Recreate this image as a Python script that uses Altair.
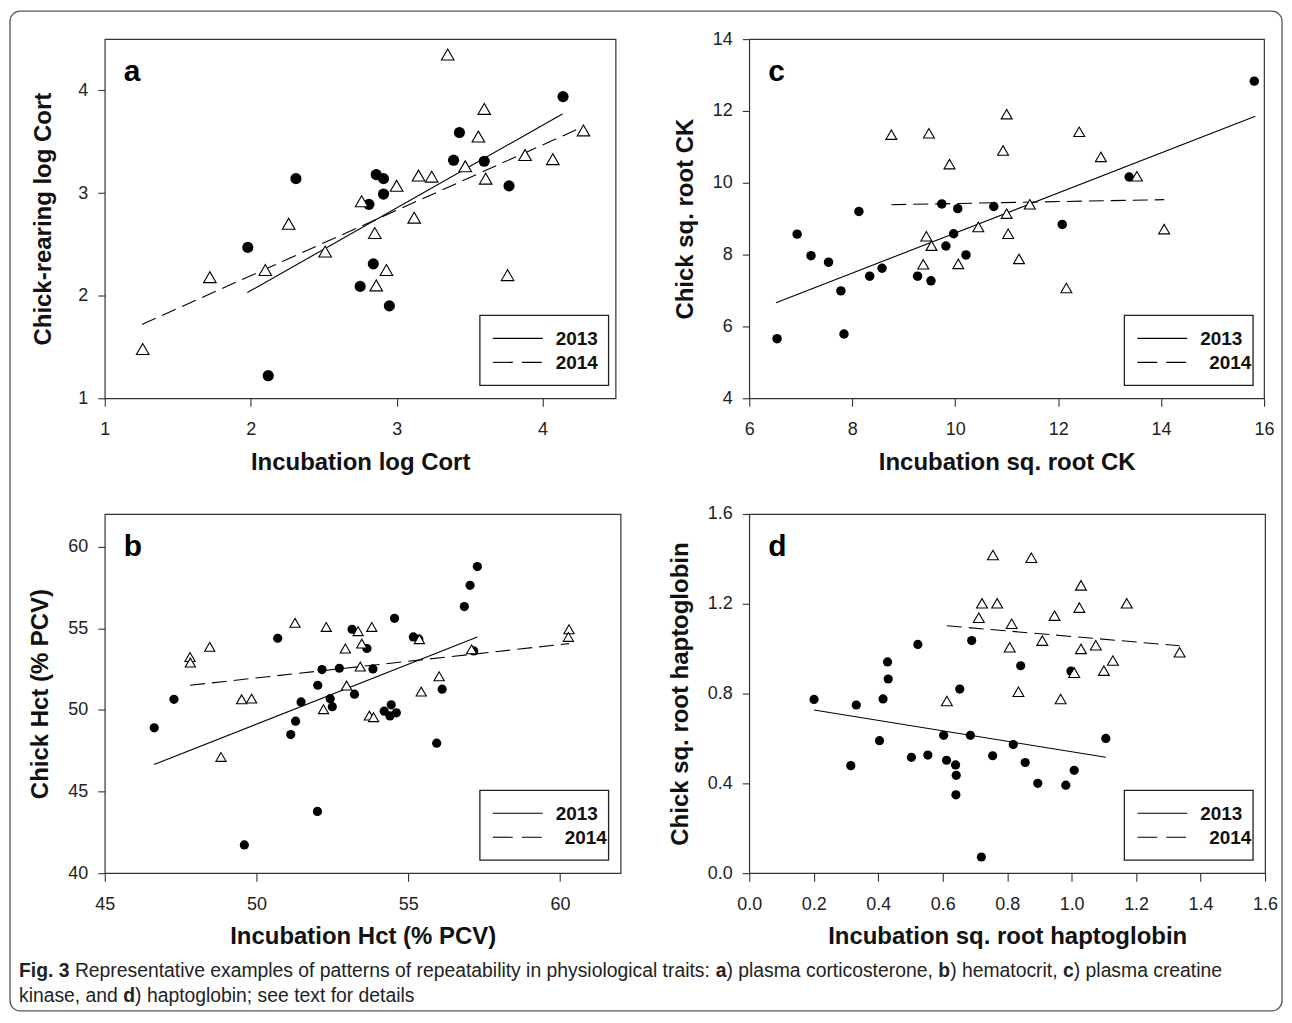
import altair as alt
import pandas as pd

# ---------------- data ----------------
# panel a : log Cort
a13_x = [4.14, 3.43, 3.39, 3.60, 3.77, 2.31, 2.86, 2.91, 2.91, 2.81, 1.98, 2.84, 2.75, 2.95, 2.12]
a13_y = [3.94, 3.59, 3.32, 3.31, 3.07, 3.14, 3.18, 3.14, 2.99, 2.89, 2.47, 2.31, 2.09, 1.90, 1.22]
a14_x = [3.35, 3.60, 3.56, 4.28, 3.88, 4.07, 3.47, 3.15, 3.24, 3.00, 3.61, 2.76, 3.12, 2.26, 2.85,
         2.51, 2.10, 2.93, 1.72, 2.86, 3.76, 1.26]
a14_y = [4.35, 3.82, 3.55, 3.61, 3.37, 3.33, 3.26, 3.17, 3.16, 3.07, 3.14, 2.92, 2.76, 2.70, 2.61,
         2.43, 2.25, 2.25, 2.18, 2.10, 2.20, 1.48]
a_fit13_x = [1.977, 4.136]
a_fit13_y = [2.03, 3.77]
a_fit14_x = [1.255, 4.284]
a_fit14_y = [1.72, 3.65]

# panel c : sq. root CK
c13_x = [6.54, 6.93, 7.20, 7.54, 7.78, 7.84, 8.13, 8.34, 8.58, 9.27, 9.53, 9.74, 9.82, 10.05, 9.97,
         10.21, 10.75, 12.08, 13.38, 15.81]
c13_y = [5.66, 8.57, 7.97, 7.79, 6.99, 5.79, 9.20, 7.40, 7.62, 7.40, 7.27, 9.41, 8.24, 9.28, 8.58,
         7.99, 9.34, 8.84, 10.16, 12.83]
c14_x = [8.76, 9.49, 11.00, 9.89, 10.93, 12.41, 12.83, 13.53, 11.45, 11.00, 10.45, 11.03, 9.44, 9.54,
         9.38, 10.06, 11.24, 12.16, 14.06]
c14_y = [11.34, 11.38, 11.91, 10.52, 10.90, 11.42, 10.72, 10.18, 9.40, 9.14, 8.77, 8.58, 8.51, 8.25,
         7.73, 7.74, 7.88, 7.07, 8.71]
c_fit13_x = [6.52, 15.83]
c_fit13_y = [6.66, 11.85]
c_fit14_x = [8.76, 14.06]
c_fit14_y = [9.39, 9.53]

# panel b : Hct
b13_x = [57.28, 57.04, 56.85, 54.55, 53.15, 50.70, 55.17, 55.35, 53.64, 52.16, 52.73, 53.84, 52.02,
         47.28, 51.47, 52.43, 52.50, 53.23, 56.12, 57.16, 51.29, 51.13, 46.63, 54.21, 54.44, 54.40,
         54.61, 55.94, 52.01, 49.60]
b13_y = [58.78, 57.63, 56.33, 55.61, 54.94, 54.39, 54.47, 54.33, 53.76, 52.47, 52.55, 52.51, 51.51,
         50.65, 50.49, 50.69, 50.20, 50.96, 51.27, 53.61, 49.31, 48.49, 48.90, 49.92, 50.31, 49.63,
         49.82, 47.96, 43.78, 41.73]
b14_x = [60.30, 60.28, 57.09, 55.37, 51.27, 52.30, 53.35, 53.80, 53.47, 52.93, 48.46, 47.81, 47.82,
         53.42, 52.97, 56.02, 55.43, 49.51, 49.84, 52.21, 53.72, 53.86, 48.83]
b14_y = [54.94, 54.47, 53.71, 54.33, 55.33, 55.08, 54.82, 55.08, 54.06, 53.76, 53.86, 53.24, 52.90,
         52.65, 51.49, 52.06, 51.12, 50.65, 50.69, 50.04, 49.65, 49.55, 47.12]
b_fit13_x = [46.62, 57.28]
b_fit13_y = [46.65, 54.47]
b_fit14_x = [47.81, 60.30]
b_fit14_y = [51.51, 54.06]

# panel d : sq. root haptoglobin
d13_x = [0.201, 0.332, 0.415, 0.429, 0.431, 0.523, 0.690, 0.842, 0.998, 0.653, 0.404, 0.315, 0.503,
         0.554, 0.603, 0.686, 0.612, 0.640, 0.642, 0.641, 0.755, 0.819, 0.856, 0.895, 0.982, 1.008,
         1.106, 0.720]
d13_y = [0.774, 0.749, 0.776, 0.941, 0.865, 1.019, 1.036, 0.924, 0.900, 0.820, 0.590, 0.479, 0.516,
         0.526, 0.614, 0.614, 0.503, 0.482, 0.436, 0.349, 0.523, 0.573, 0.493, 0.400, 0.392, 0.458,
         0.600, 0.072]
d14_x = [0.756, 0.875, 1.029, 0.722, 0.769, 1.171, 1.024, 0.712, 0.947, 0.814, 0.909, 1.075, 0.808,
         1.029, 1.335, 1.128, 1.008, 1.100, 0.835, 0.966, 0.613]
d14_y = [1.417, 1.405, 1.282, 1.202, 1.202, 1.202, 1.183, 1.138, 1.147, 1.111, 1.036, 1.015, 1.006,
         0.999, 0.984, 0.947, 0.893, 0.902, 0.808, 0.776, 0.767]
d_fit13_x = [0.201, 1.106]
d_fit13_y = [0.727, 0.516]
d_fit14_x = [0.613, 1.335]
d_fit14_y = [1.102, 1.013]

a_xticks = [1, 2, 3, 4]
a_yticks = [1, 2, 3, 4]
c_xticks = [6, 8, 10, 12, 14, 16]
c_yticks = [4, 6, 8, 10, 12, 14]
b_xticks = [45, 50, 55, 60]
b_yticks = [40, 45, 50, 55, 60]
d_xticks = [0.0, 0.2, 0.4, 0.6, 0.8, 1.0, 1.2, 1.4, 1.6]
d_yticks = [0.0, 0.4, 0.8, 1.2, 1.6]

years = ["2013", "2014"]

caption_line1 = [("Fig. 3", True),
                 (" Representative examples of patterns of repeatability in physiological traits: ", False),
                 ("a", True), (") plasma corticosterone, ", False),
                 ("b", True), (") hematocrit, ", False),
                 ("c", True), (") plasma creatine", False)]
caption_line2 = [("kinase, and ", False), ("d", True), (") haptoglobin; see text for details", False)]

FONT = "Liberation Sans"
ONE = pd.DataFrame({"k": [0]})


def panel(letter, x13, y13, x14, y14, f13x, f13y, f14x, f14y, xdom, ydom, xticks, yticks,
          xtitle, ytitle, csize, tsize, fmt=None, ytp=15, leg14_x=461):
    xs = alt.Scale(domain=xdom, nice=False, zero=False)
    ys = alt.Scale(domain=ydom, nice=False, zero=False)
    xkw = dict(values=xticks, title=xtitle, labelFlush=False, labelOverlap=False, grid=False,
               tickSize=8, labelPadding=14, titlePadding=12)
    ykw = dict(values=yticks, title=ytitle, labelFlush=False, labelOverlap=False, grid=False,
               tickSize=7, labelPadding=10, titlePadding=ytp)
    if fmt:
        xkw["format"] = fmt
        ykw["format"] = fmt
    X = alt.X("x:Q", scale=xs, axis=alt.Axis(**xkw))
    Y = alt.Y("y:Q", scale=ys, axis=alt.Axis(**ykw))

    fit13 = alt.Chart(pd.DataFrame({"x": f13x, "y": f13y})).mark_line(
        color="black", strokeWidth=1.1).encode(x=X, y=Y)
    fit14 = alt.Chart(pd.DataFrame({"x": f14x, "y": f14y})).mark_line(
        color="black", strokeWidth=1.1, strokeDash=[15, 7]).encode(x=X, y=Y)
    pts13 = alt.Chart(pd.DataFrame({"x": x13, "y": y13})).mark_circle(
        color="black", size=csize, opacity=1).encode(x=X, y=Y)
    pts14 = alt.Chart(pd.DataFrame({"x": x14, "y": y14})).mark_point(
        shape="triangle-up", filled=True, fill="white", fillOpacity=1, stroke="black",
        strokeWidth=1.1, size=tsize, opacity=1).encode(x=X, y=Y)

    # legend box
    bx0, bx1, by0, by1 = 376, 505, 277, 347
    box = alt.Chart(ONE).mark_rect(fill="white", stroke="#222", strokeWidth=1.3).encode(
        x=alt.value(bx0), x2=alt.value(bx1), y=alt.value(by0), y2=alt.value(by1))
    r13 = alt.Chart(ONE).mark_rule(color="black", strokeWidth=1.1).encode(
        x=alt.value(bx0 + 13), x2=alt.value(bx0 + 63), y=alt.value(by0 + 23))
    r14 = alt.Chart(ONE).mark_rule(color="black", strokeWidth=1.1, strokeDash=[20, 9]).encode(
        x=alt.value(bx0 + 13), x2=alt.value(bx0 + 63), y=alt.value(by0 + 47))
    t13 = alt.Chart(ONE).mark_text(align="left", baseline="middle", font=FONT, fontSize=19,
                                   fontWeight="bold", color="#111").encode(
        x=alt.value(bx0 + 76), y=alt.value(by0 + 24), text=alt.value(years[0]))
    t14 = alt.Chart(ONE).mark_text(align="left", baseline="middle", font=FONT, fontSize=19,
                                   fontWeight="bold", color="#111").encode(
        x=alt.value(leg14_x), y=alt.value(by0 + 48), text=alt.value(years[1]))
    lab = alt.Chart(ONE).mark_text(align="left", baseline="alphabetic", font=FONT, fontSize=30,
                                   fontWeight="bold", color="black").encode(
        x=alt.value(19), y=alt.value(42), text=alt.value(letter))
    return [fit13, fit14, pts13, pts14, box, r13, r14, t13, t14, lab]


# Arial / Liberation Sans advance widths (1/1000 em)
REG = {" ": 278, ",": 278, ".": 278, ":": 278, ";": 278, ")": 333, "(": 333, "3": 556,
       "a": 556, "b": 556, "c": 500, "d": 556, "e": 556, "f": 278, "g": 556, "h": 556, "i": 222,
       "j": 222, "k": 500, "l": 222, "m": 833, "n": 556, "o": 556, "p": 556, "q": 556, "r": 333,
       "s": 500, "t": 278, "u": 556, "v": 500, "w": 722, "x": 500, "y": 500, "z": 500, "R": 722,
       "F": 611}
BOLD = {"F": 611, "i": 278, "g": 611, ".": 278, " ": 278, "3": 556, "a": 556, "b": 611,
        "c": 556, "d": 611}


def units(s, bold):
    tab = BOLD if bold else REG
    return sum(tab.get(ch, 556) for ch in s)


total1 = sum(units(s, b) for s, b in caption_line1)
CAP_FS = 1206 * 1000 / total1
ORIGIN_X = 103  # absolute x of panel b plot origin
ORIGIN_Y = 512


def caption_layers(line, base_abs):
    out = []
    x = 17.0
    for s, b in line:
        lead = len(s) - len(s.lstrip(" "))
        xs = x + lead * units(" ", b) * CAP_FS / 1000
        out.append(alt.Chart(ONE).mark_text(
            align="left", baseline="alphabetic", font=FONT, fontSize=CAP_FS,
            fontWeight="bold" if b else "normal", color="#222").encode(
            x=alt.value(xs - ORIGIN_X), y=alt.value(base_abs - ORIGIN_Y),
            text=alt.value(s.strip(" "))))
        x += units(s, b) * CAP_FS / 1000
    return out


border = alt.Chart(ONE).mark_rect(fillOpacity=0, stroke="#555", strokeWidth=1.3,
                                  cornerRadius=10).encode(
    x=alt.value(8 - ORIGIN_X), x2=alt.value(1283 - ORIGIN_X),
    y=alt.value(8 - ORIGIN_Y), y2=alt.value(1010 - ORIGIN_Y))

pa = alt.layer(*panel("a", a13_x, a13_y, a14_x, a14_y, a_fit13_x, a_fit13_y, a_fit14_x, a_fit14_y,
                      [1, 4.5], [1, 4.5], a_xticks, a_yticks, "Incubation log Cort",
                      "Chick-rearing log Cort", 125, 160, ytp=22, leg14_x=452)
               ).properties(width=512, height=360)
pc = alt.layer(*panel("c", c13_x, c13_y, c14_x, c14_y, c_fit13_x, c_fit13_y, c_fit14_x, c_fit14_y,
                      [6, 16], [4, 14], c_xticks, c_yticks, "Incubation sq. root CK",
                      "Chick sq. root CK", 90, 120)
               ).properties(width=516, height=360)
pb = alt.layer(*(panel("b", b13_x, b13_y, b14_x, b14_y, b_fit13_x, b_fit13_y, b_fit14_x, b_fit14_y,
                       [45, 62], [40, 62], b_xticks, b_yticks, "Incubation Hct (% PCV)",
                       "Chick Hct (% PCV)", 85, 105)
                 + caption_layers(caption_line1, 976) + caption_layers(caption_line2, 1001)
                 + [border])
               ).properties(width=517, height=360)
pd_ = alt.layer(*panel("d", d13_x, d13_y, d14_x, d14_y, d_fit13_x, d_fit13_y, d_fit14_x, d_fit14_y,
                       [0, 1.6], [0, 1.6], d_xticks, d_yticks, "Incubation sq. root haptoglobin",
                       "Chick sq. root haptoglobin", 85, 120, fmt=".1f")
                ).properties(width=517, height=360)

chart = alt.concat(pa, pc, pb, pd_, columns=2, spacing={"row": 116, "column": 129},
                   bounds="flush").properties(padding=0).configure(font=FONT).configure_view(
    stroke="#333", strokeWidth=1.2).configure_axis(
    labelFont=FONT, labelFontSize=18, labelColor="#222", titleFont=FONT, titleFontSize=24,
    titleFontWeight="bold", titleColor="#111", tickColor="#333", tickWidth=1.1, domain=False)

chart.save("out.html", embed_options={"renderer": "svg", "actions": False})
